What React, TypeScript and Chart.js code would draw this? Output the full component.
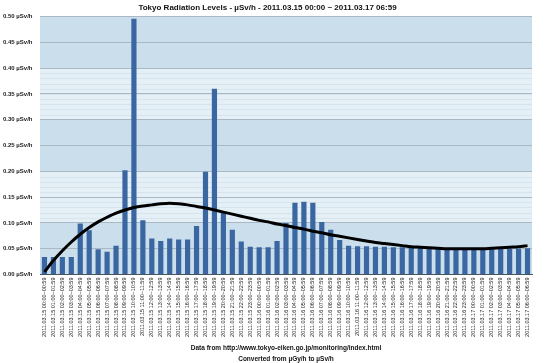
import React, { useEffect, useRef } from "react";
import { Chart, registerables } from "chart.js";

Chart.register(...registerables);

const TITLE = "Tokyo Radiation Levels - µSv/h - 2011.03.15 00:00 ~ 2011.03.17 06:59";
const FOOTER = [
  "Data from http://www.tokyo-eiken.go.jp/monitoring/index.html",
  "Converted from µGy/h to µSv/h",
];

const hours: string[] = [
  "2011.03.15 00:00~00:59", "2011.03.15 01:00~01:59", "2011.03.15 02:00~02:59", "2011.03.15 03:00~03:59",
  "2011.03.15 04:00~04:59", "2011.03.15 05:00~05:59", "2011.03.15 06:00~06:59", "2011.03.15 07:00~07:59",
  "2011.03.15 08:00~08:59", "2011.03.15 09:00~09:59", "2011.03.15 10:00~10:59", "2011.03.15 11:00~11:59",
  "2011.03.15 12:00~12:59", "2011.03.15 13:00~13:59", "2011.03.15 14:00~14:59", "2011.03.15 15:00~15:59",
  "2011.03.15 16:00~16:59", "2011.03.15 17:00~17:59", "2011.03.15 18:00~18:59", "2011.03.15 19:00~19:59",
  "2011.03.15 20:00~20:59", "2011.03.15 21:00~21:59", "2011.03.15 22:00~22:59", "2011.03.15 23:00~23:59",
  "2011.03.16 00:00~00:59", "2011.03.16 01:00~01:59", "2011.03.16 02:00~02:59", "2011.03.16 03:00~03:59",
  "2011.03.16 04:00~04:59", "2011.03.16 05:00~05:59", "2011.03.16 06:00~06:59", "2011.03.16 07:00~07:59",
  "2011.03.16 08:00~08:59", "2011.03.16 09:00~09:59", "2011.03.16 10:00~10:59", "2011.03.16 11:00~11:59",
  "2011.03.16 12:00~12:59", "2011.03.16 13:00~13:59", "2011.03.16 14:00~14:59", "2011.03.16 15:00~15:59",
  "2011.03.16 16:00~16:59", "2011.03.16 17:00~17:59", "2011.03.16 18:00~18:59", "2011.03.16 19:00~19:59",
  "2011.03.16 20:00~20:59", "2011.03.16 21:00~21:59", "2011.03.16 22:00~22:59", "2011.03.16 23:00~23:59",
  "2011.03.17 00:00~00:59", "2011.03.17 01:00~01:59", "2011.03.17 02:00~02:59", "2011.03.17 03:00~03:59",
  "2011.03.17 04:00~04:59", "2011.03.17 05:00~05:59", "2011.03.17 06:00~06:59",
];

const radiation: number[] = [
  0.034, 0.034, 0.034, 0.034, 0.099, 0.086, 0.049, 0.044, 0.056, 0.202,
  0.496, 0.105, 0.070, 0.065, 0.070, 0.068, 0.068, 0.094, 0.199, 0.360,
  0.120, 0.087, 0.064, 0.054, 0.053, 0.053, 0.065, 0.100, 0.139, 0.141,
  0.139, 0.102, 0.087, 0.067, 0.056, 0.055, 0.055, 0.054, 0.054, 0.053,
  0.053, 0.053, 0.052, 0.052, 0.051, 0.050, 0.050, 0.050, 0.050, 0.050,
  0.050, 0.050, 0.050, 0.050, 0.051,
];

const trend: number[] = [
  0.005, 0.027, 0.046, 0.063, 0.078, 0.091, 0.102, 0.111, 0.119, 0.125,
  0.130, 0.133, 0.135, 0.137, 0.138, 0.137, 0.135, 0.132, 0.129, 0.125,
  0.121, 0.117, 0.113, 0.109, 0.105, 0.102, 0.098, 0.095, 0.091, 0.088,
  0.084, 0.081, 0.077, 0.074, 0.071, 0.068, 0.065, 0.062, 0.060, 0.058,
  0.056, 0.054, 0.053, 0.052, 0.051, 0.050, 0.050, 0.050, 0.050, 0.050,
  0.051, 0.052, 0.053, 0.054, 0.056,
];

const Y_MAX = 0.5;
const Y_STEP = 0.05;
const BAND = 0.1;
const MINOR = 0.01;

const FONT = "'Liberation Sans', Arial, Helvetica, sans-serif";

const bandsPlugin = {
  id: "bands",
  beforeDraw(chart: any) {
    const { ctx, chartArea, scales } = chart;
    const y = scales.y;
    ctx.save();
    const nb = Math.round(Y_MAX / BAND);
    for (let i = 0; i < nb; i++) {
      const v0 = i * BAND;
      const v1 = (i + 1) * BAND;
      const p0 = y.getPixelForValue(v0);
      const p1 = y.getPixelForValue(v1);
      const dark = i % 2 === 0;
      ctx.fillStyle = dark ? "#cadeec" : "#e5eff6";
      ctx.fillRect(chartArea.left, p1, chartArea.right - chartArea.left, p0 - p1);
      if (!dark) {
        ctx.strokeStyle = "#d6e4ee";
        ctx.lineWidth = 1;
        for (let v = v0 + MINOR; v < v1 - MINOR / 2; v += MINOR) {
          const p = Math.round(y.getPixelForValue(v)) + 0.5;
          ctx.beginPath();
          ctx.moveTo(chartArea.left, p);
          ctx.lineTo(chartArea.right, p);
          ctx.stroke();
        }
      }
    }
    ctx.restore();
  },
};

export default function App() {
  const ref = useRef<HTMLCanvasElement>(null);
  useEffect(() => {
    if (!ref.current) return;
    const chart = new Chart(ref.current, {
      type: "bar",
      data: {
        labels: hours,
        datasets: [
          {
            type: "line",
            data: trend,
            borderColor: "#000000",
            borderWidth: 3,
            pointRadius: 0,
            cubicInterpolationMode: "monotone",
            fill: false,
            order: 0,
          } as any,
          {
            type: "bar",
            data: radiation,
            backgroundColor: "#3a67a1",
            borderWidth: 0,
            barPercentage: 0.58,
            categoryPercentage: 1,
            order: 1,
          },
        ],
      },
      options: {
        animation: false,
        responsive: true,
        maintainAspectRatio: false,
        layout: { padding: { left: 3, right: 18, top: 3, bottom: -2 } },
        plugins: {
          legend: { display: false },
          tooltip: { enabled: false },
          title: {
            display: true,
            text: TITLE,
            color: "#111",
            font: { family: FONT, size: 8, weight: "bold" },
            padding: { top: 0, bottom: 4 },
          },
        },
        scales: {
          x: {
            grid: { display: false, drawTicks: false },
            border: { display: true, color: "#4a5560", width: 1 },
            ticks: {
              autoSkip: false,
              minRotation: 90,
              maxRotation: 90,
              color: "#222",
              padding: 3,
              font: { family: FONT, size: 5.5 },
            },
            title: {
              display: true,
              text: FOOTER,
              color: "#111",
              font: { family: FONT, size: 6.5, weight: "bold", lineHeight: 1.7 },
              padding: { top: 3, bottom: 0 },
            },
          },
          y: {
            min: 0,
            max: Y_MAX,
            grid: { color: "#a9b8c4", drawTicks: false },
            border: { display: false },
            afterFit: (s: any) => {
              s.width = 37;
            },
            ticks: {
              stepSize: Y_STEP,
              crossAlign: "far",
              color: "#222",
              padding: 4,
              font: { family: FONT, size: 6, weight: "bold" },
              callback: (v: any) => Number(v).toFixed(2) + " µSv/h",
            },
          },
        },
      },
      plugins: [bandsPlugin],
    });
    return () => chart.destroy();
  }, []);
  return (
    <div style={{ position: "absolute", left: 0, top: 0, width: 550, height: 363, background: "#fff" }}>
      <canvas ref={ref} />
    </div>
  );
}
